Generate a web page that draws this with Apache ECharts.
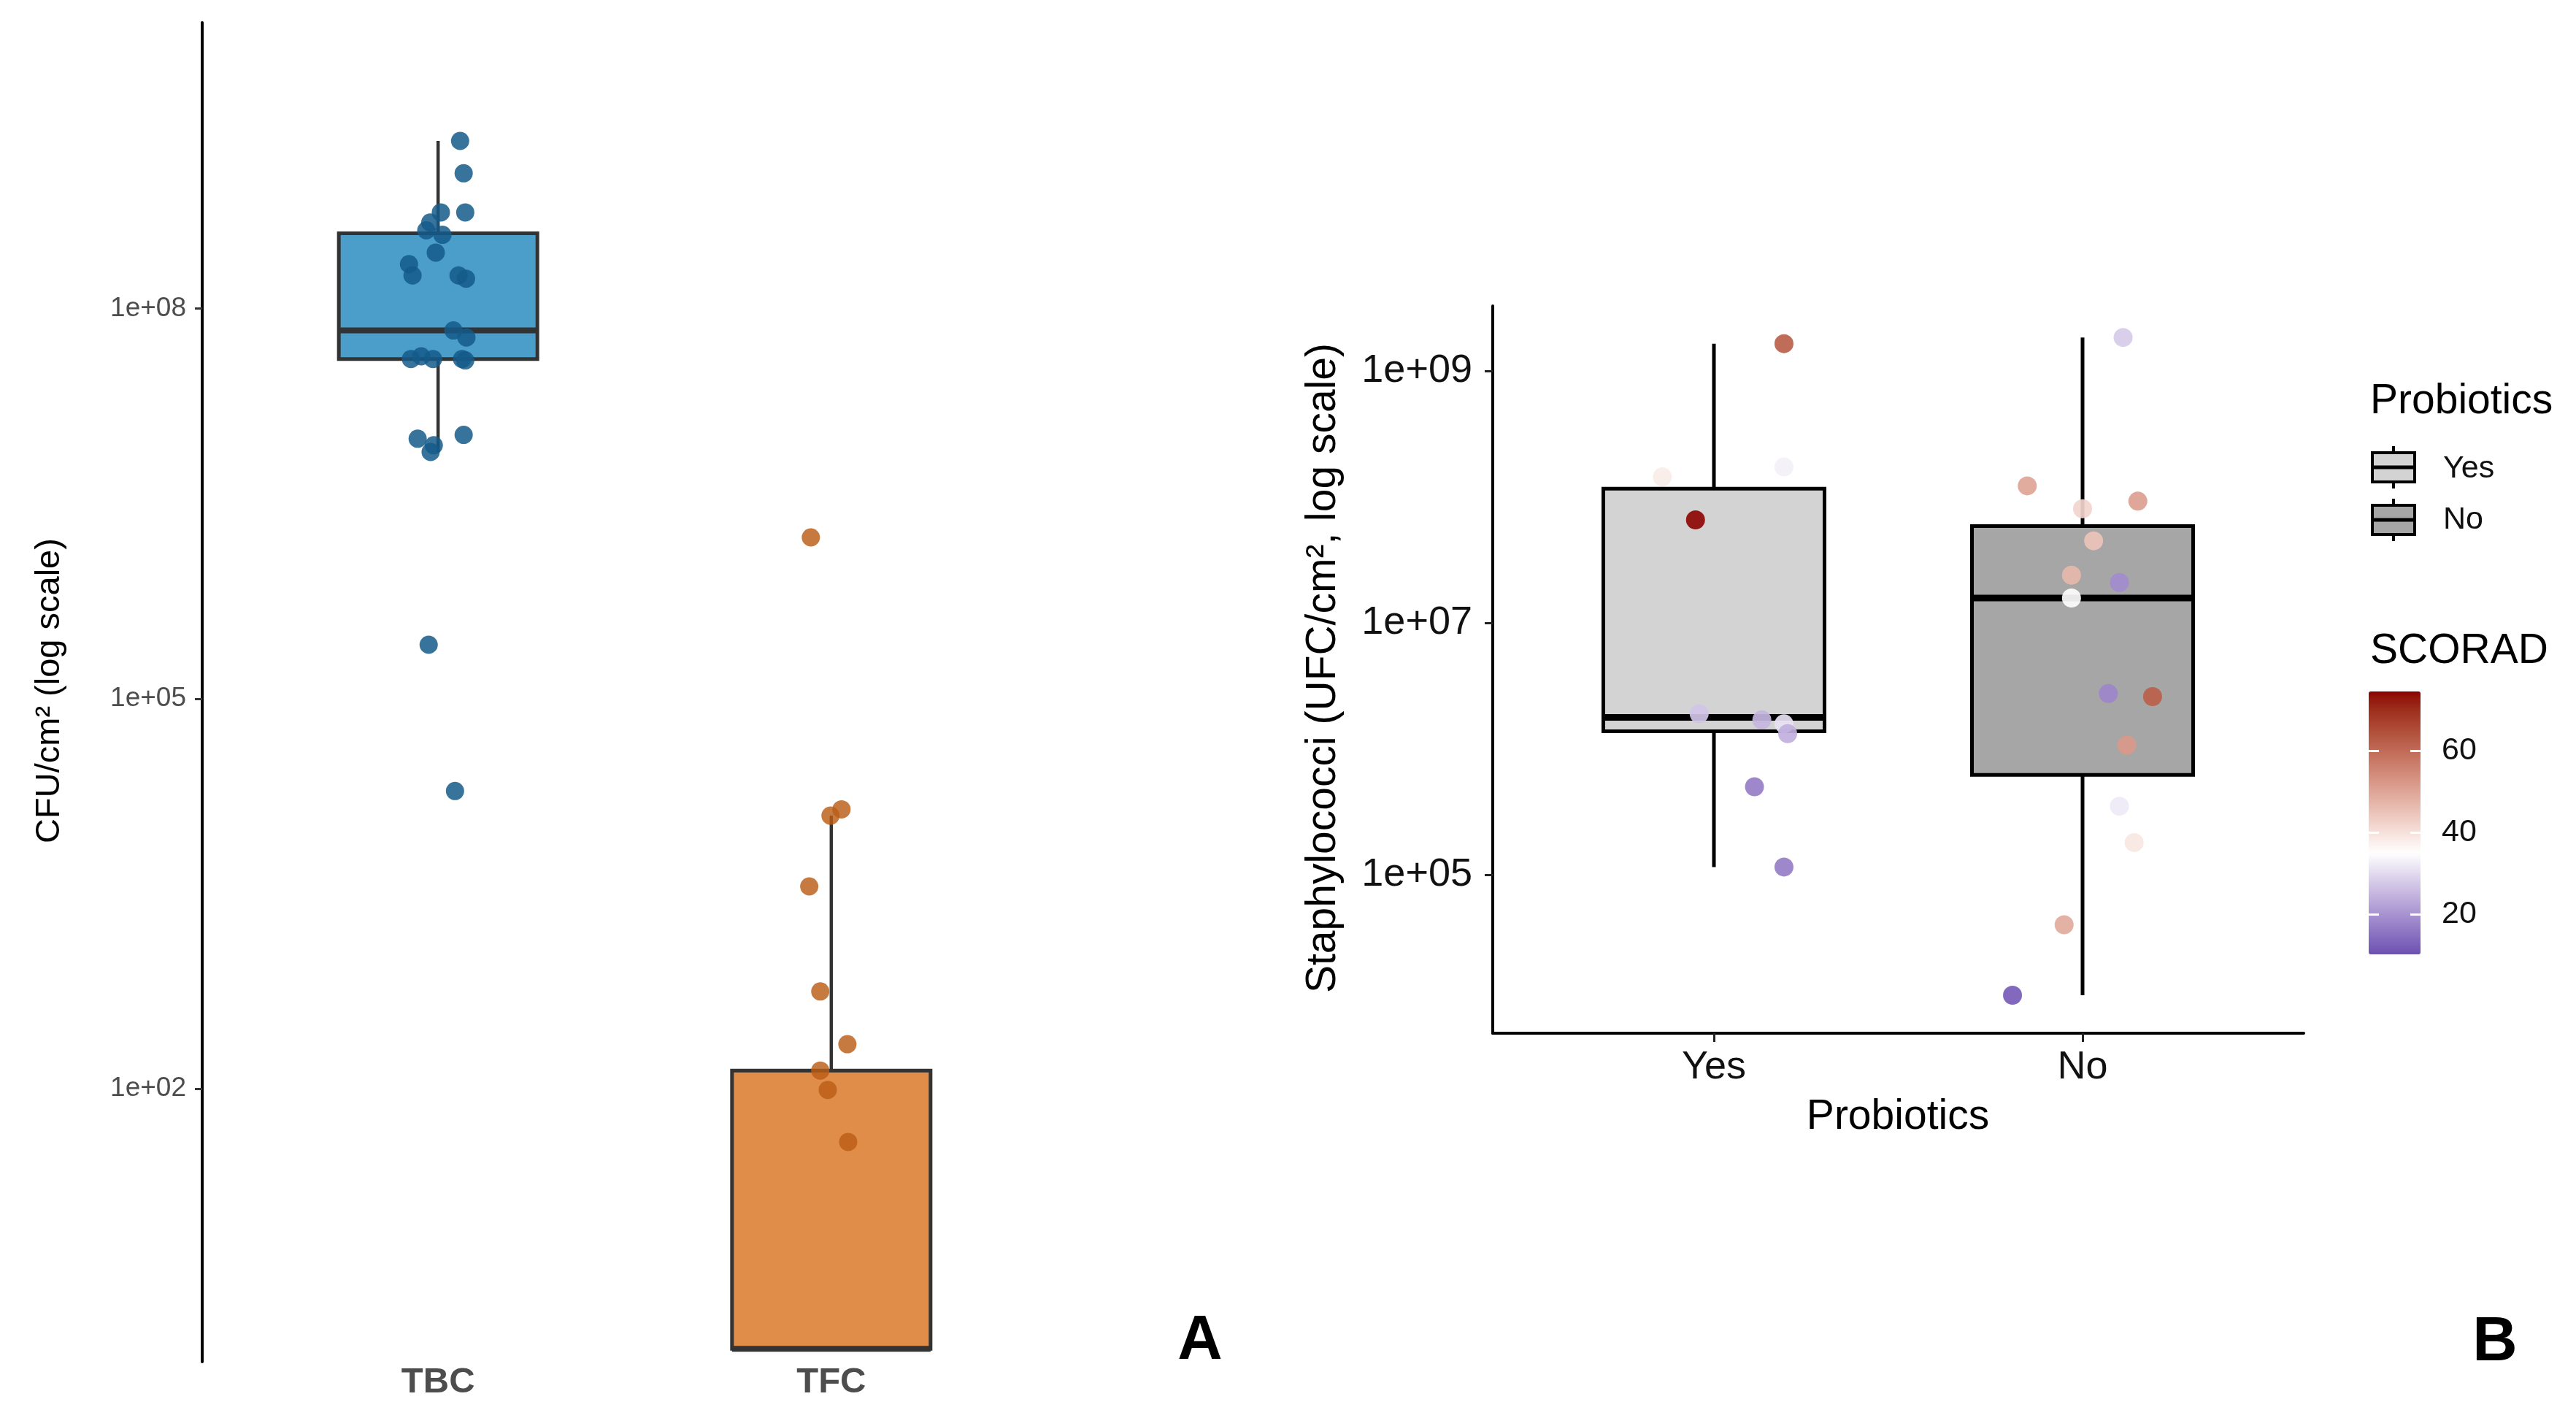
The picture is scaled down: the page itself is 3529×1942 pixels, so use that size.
<!DOCTYPE html>
<html>
<head>
<meta charset="utf-8">
<script src="https://cdn.jsdelivr.net/npm/echarts@6/dist/echarts.min.js"></script>
<style>
  html, body { margin: 0; padding: 0; background: #ffffff; }
  #chart { width: 3529px; height: 1942px; }
</style>
</head>
<body>
<div id="chart"></div>
<script>
// ---------------- Panel A data (CFU/cm2) ----------------
const panelACategories = ['TBC', 'TFC'];
const tbcValues = [1.95e9, 1.10e9, 5.5e8, 5.5e8, 4.6e8, 4.0e8, 3.7e8, 2.7e8, 2.2e8, 1.8e8, 1.8e8, 1.7e8,
  6.8e7, 6.0e7, 4.1e7, 4.3e7, 4.1e7, 4.1e7, 4.0e7, 1.0e7, 1.07e7, 8.9e6, 7.9e6, 2.6e5, 1.95e4];
const tbcJitter = [0.056, 0.065, 0.007, 0.069, -0.020, -0.030, 0.011, -0.006, -0.074, -0.065, 0.052, 0.071,
  0.039, 0.072, -0.069, -0.043, -0.013, 0.061, 0.069, -0.052, 0.065, -0.011, -0.019, -0.024, 0.043];
const tfcValues = [1.74e6, 1.26e4, 1.41e4, 3.6e3, 5.6e2, 2.2e2, 1.38e2, 98, 39];
const tfcJitter = [-0.052, -0.002, 0.026, -0.056, -0.028, 0.041, -0.028, -0.009, 0.043];
// box stats: [lower whisker, Q1, median, Q3, upper whisker]
const tbcBox = [7.9e6, 4.1e7, 6.8e7, 3.8e8, 1.95e9];
const tfcBox = [1, 1, 1, 1.38e2, 1.26e4];
const panelATickExponents = [2, 5, 8];

// ---------------- Panel B data (UFC/cm2) ----------------
const probioticsCategories = ['Yes', 'No'];
const yesValues = [1.66e9, 1.45e8, 1.74e8, 6.6e7, 1.9e6, 1.7e6, 1.58e6, 1.32e6, 5.0e5, 1.15e5];
const yesScorad = [62, 38, 33, 74, 27, 25, 31, 24, 17, 17];
const yesJitter = [0.19, -0.14, 0.19, -0.05, -0.04, 0.13, 0.19, 0.20, 0.11, 0.19];
const noValues = [1.86e9, 1.23e8, 9.3e7, 8.1e7, 4.5e7, 2.4e7, 2.1e7, 1.58e7, 2.75e6, 2.6e6, 1.07e6, 3.5e5, 1.8e5, 4.0e4, 1.1e4];
const noScorad = [28, 50, 51, 42, 45, 47, 19, 35, 18, 62, 52, 32, 39, 49, 12];
const noJitter = [0.11, -0.15, 0.15, 0.00, 0.03, -0.03, 0.10, -0.03, 0.07, 0.19, 0.12, 0.10, 0.14, -0.05, -0.19];
const yesBox = [1.15e5, 1.38e6, 1.78e6, 1.17e8, 1.66e9];
const noBox = [1.1e4, 6.2e5, 1.58e7, 5.9e7, 1.86e9];
const panelBTickExponents = [5, 7, 9];
const scoradTicks = [20, 40, 60];
const scoradRange = [10.2, 74.5];
const scoradMid = 35;

// ---------------- helpers ----------------
const FONT = 'Liberation Sans, Arial, Helvetica, sans-serif';
const lg = v => Math.log10(v);
const expLabel = v => '1e+' + (v < 10 ? '0' : '') + v;

function hexToRgb(hex) { const n = parseInt(hex.slice(1), 16); return [(n >> 16) & 255, (n >> 8) & 255, n & 255]; }
function toLin(c) { c /= 255; return c <= 0.04045 ? c / 12.92 : Math.pow((c + 0.055) / 1.055, 2.4); }
function fromLin(c) { const v = c <= 0.0031308 ? 12.92 * c : 1.055 * Math.pow(c, 1 / 2.4) - 0.055; return Math.round(Math.max(0, Math.min(1, v)) * 255); }
function rgbToLab(rgb) {
  const r = toLin(rgb[0]), g = toLin(rgb[1]), b = toLin(rgb[2]);
  const x = (0.4124 * r + 0.3576 * g + 0.1805 * b) / 0.95047;
  const y = (0.2126 * r + 0.7152 * g + 0.0722 * b);
  const z = (0.0193 * r + 0.1192 * g + 0.9505 * b) / 1.08883;
  const f = t => t > 0.008856 ? Math.cbrt(t) : 7.787 * t + 16 / 116;
  const fx = f(x), fy = f(y), fz = f(z);
  return [116 * fy - 16, 500 * (fx - fy), 200 * (fy - fz)];
}
function labToHex(lab) {
  const fy = (lab[0] + 16) / 116, fx = fy + lab[1] / 500, fz = fy - lab[2] / 200;
  const fi = t => { const t3 = t * t * t; return t3 > 0.008856 ? t3 : (t - 16 / 116) / 7.787; };
  const x = fi(fx) * 0.95047, y = fi(fy), z = fi(fz) * 1.08883;
  const r = 3.2406 * x - 1.5372 * y - 0.4986 * z;
  const g = -0.9689 * x + 1.8758 * y + 0.0415 * z;
  const b = 0.0557 * x - 0.2040 * y + 1.0570 * z;
  return '#' + [fromLin(r), fromLin(g), fromLin(b)].map(c => c.toString(16).padStart(2, '0')).join('');
}
const LOW = rgbToLab(hexToRgb('#6c51b2')), MID = rgbToLab(hexToRgb('#ffffff')), HIGH = rgbToLab(hexToRgb('#8b0000'));
function scoradColor(v) {
  let a, b, t;
  if (v <= scoradMid) { a = LOW; b = MID; t = (v - scoradRange[0]) / (scoradMid - scoradRange[0]); }
  else { a = MID; b = HIGH; t = (v - scoradMid) / (scoradRange[1] - scoradMid); }
  return labToHex([0, 1, 2].map(i => a[i] + (b[i] - a[i]) * t));
}
const colorStops = [];
for (let i = 0; i <= 80; i++) colorStops.push(scoradColor(scoradRange[0] + (scoradRange[1] - scoradRange[0]) * i / 80));

function boxRenderer(opts) {
  return function (params, api) {
    const x = api.value(0);
    const lo = api.coord([x, api.value(1)]);
    const q1 = api.coord([x, api.value(2)]);
    const md = api.coord([x, api.value(3)]);
    const q3 = api.coord([x, api.value(4)]);
    const hi = api.coord([x, api.value(5)]);
    const half = api.size([opts.width, 0])[0] / 2;
    const cx = md[0];
    return {
      type: 'group',
      children: [
        { type: 'line', shape: { x1: cx, y1: hi[1], x2: cx, y2: q3[1] }, style: { stroke: opts.stroke, lineWidth: opts.whiskerLw } },
        { type: 'line', shape: { x1: cx, y1: q1[1], x2: cx, y2: lo[1] }, style: { stroke: opts.stroke, lineWidth: opts.whiskerLw } },
        { type: 'rect', shape: { x: cx - half, y: q3[1], width: 2 * half, height: q1[1] - q3[1] },
          style: { fill: opts.fills[params.dataIndex], stroke: opts.stroke, lineWidth: opts.lw } },
        { type: 'line', shape: { x1: cx - half, y1: md[1], x2: cx + half, y2: md[1] }, style: { stroke: opts.stroke, lineWidth: opts.medLw } }
      ]
    };
  };
}

const tbcPoints = tbcValues.map((v, i) => [1 + tbcJitter[i], lg(v)]);
const tfcPoints = tfcValues.map((v, i) => [2 + tfcJitter[i], lg(v)]);
const yesPoints = yesValues.map((v, i) => [1 + yesJitter[i], lg(v), yesScorad[i]]);
const noPoints = noValues.map((v, i) => [2 + noJitter[i], lg(v), noScorad[i]]);
const boxA = [[1].concat(tbcBox.map(lg)), [2].concat(tfcBox.map(lg))];
const boxB = [[1].concat(yesBox.map(lg)), [2].concat(noBox.map(lg))];

const chart = echarts.init(document.getElementById('chart'), null, { renderer: 'canvas', devicePixelRatio: 1 });

const option = {
  animation: false,
  backgroundColor: '#ffffff',
  textStyle: { fontFamily: FONT },
  grid: [
    { left: 277, top: 31, width: 1185, height: 1834 },
    { left: 2045, top: 419, width: 1111, height: 996 },
    { left: 3245, top: 947, width: 71, height: 360 }
  ],
  xAxis: [
    { gridIndex: 0, type: 'value', min: 0.4, max: 2.6,
      axisLine: { show: false }, axisTick: { show: false }, splitLine: { show: false },
      axisLabel: { customValues: [1, 2], formatter: v => panelACategories[Math.round(v) - 1],
        fontSize: 49, fontWeight: 'bold', color: '#4d4d4d', fontFamily: FONT, margin: 4 } },
    { gridIndex: 1, type: 'value', min: 0.4, max: 2.6,
      axisLine: { show: true, lineStyle: { color: '#000', width: 4 } },
      axisTick: { show: true, customValues: [1, 2], length: 12, lineStyle: { color: '#222', width: 3 } },
      splitLine: { show: false },
      axisLabel: { customValues: [1, 2], formatter: v => probioticsCategories[Math.round(v) - 1],
        fontSize: 54, color: '#111', fontFamily: FONT, margin: 20 } },
    { gridIndex: 2, type: 'value', min: 0, max: 1, show: false }
  ],
  yAxis: [
    { gridIndex: 0, type: 'value', min: -0.1, max: 10.2,
      axisLine: { show: true, lineStyle: { color: '#000', width: 4 } },
      axisTick: { show: true, customValues: panelATickExponents, length: 10, lineStyle: { color: '#333', width: 3 } },
      splitLine: { show: false },
      axisLabel: { customValues: panelATickExponents, formatter: expLabel, fontSize: 37, color: '#4d4d4d', fontFamily: FONT, margin: 22 } },
    { gridIndex: 1, type: 'value', min: 3.74, max: 9.52,
      axisLine: { show: true, lineStyle: { color: '#000', width: 4 } },
      axisTick: { show: true, customValues: panelBTickExponents, length: 11, lineStyle: { color: '#222', width: 3 } },
      splitLine: { show: false },
      axisLabel: { customValues: panelBTickExponents, formatter: expLabel, fontSize: 54, color: '#111', fontFamily: FONT, margin: 28 } },
    { gridIndex: 2, type: 'value', min: scoradRange[0], max: scoradRange[1], position: 'left', z: 10,
      axisLine: { show: false }, splitLine: { show: false }, axisLabel: { show: false },
      axisTick: { show: true, inside: true, customValues: scoradTicks, length: 14, lineStyle: { color: '#ffffff', width: 3 } } },
    { gridIndex: 2, type: 'value', min: scoradRange[0], max: scoradRange[1], position: 'right', z: 10,
      axisLine: { show: false }, splitLine: { show: false },
      axisTick: { show: true, inside: true, customValues: scoradTicks, length: 14, lineStyle: { color: '#ffffff', width: 3 } },
      axisLabel: { customValues: scoradTicks, fontSize: 43, color: '#111', fontFamily: FONT, margin: 29 } }
  ],
  visualMap: [{
    type: 'continuous', min: scoradRange[0], max: scoradRange[1], dimension: 2, seriesIndex: [4, 5],
    inRange: { color: colorStops }, calculable: false, hoverLink: false,
    orient: 'vertical', left: 3245, top: 947, itemWidth: 71, itemHeight: 360, padding: 0
  }],
  series: [
    { type: 'custom', name: 'boxA', xAxisIndex: 0, yAxisIndex: 0, z: 2,
      renderItem: boxRenderer({ width: 0.505, fills: ['#4b9dca', '#e08d4a'], stroke: '#333333', lw: 5, medLw: 8, whiskerLw: 4.5 }),
      encode: { x: 0, y: [1, 2, 3, 4, 5] }, data: boxA },
    { type: 'scatter', name: 'TBC', xAxisIndex: 0, yAxisIndex: 0, z: 3, symbolSize: 25,
      itemStyle: { color: '#145b8a', opacity: 0.85 }, data: tbcPoints },
    { type: 'scatter', name: 'TFC', xAxisIndex: 0, yAxisIndex: 0, z: 3, symbolSize: 25,
      itemStyle: { color: '#b95d16', opacity: 0.82 }, data: tfcPoints },
    { type: 'custom', name: 'boxB', xAxisIndex: 1, yAxisIndex: 1, z: 2,
      renderItem: boxRenderer({ width: 0.6, fills: ['#d3d3d3', '#a6a6a6'], stroke: '#000000', lw: 5, medLw: 9, whiskerLw: 5 }),
      encode: { x: 0, y: [1, 2, 3, 4, 5] }, data: boxB },
    { type: 'scatter', name: 'Yes', xAxisIndex: 1, yAxisIndex: 1, z: 3, symbolSize: 26,
      itemStyle: { opacity: 0.92 }, encode: { x: 0, y: 1 }, data: yesPoints },
    { type: 'scatter', name: 'No', xAxisIndex: 1, yAxisIndex: 1, z: 3, symbolSize: 26,
      itemStyle: { opacity: 0.92 }, encode: { x: 0, y: 1 }, data: noPoints }
  ],
  graphic: [
    { type: 'text', x: 68, y: 946, rotation: Math.PI / 2,
      style: { text: 'CFU/cm² (log scale)', fontSize: 47, fontFamily: FONT, fill: '#000', align: 'center', verticalAlign: 'middle' } },
    { type: 'text', x: 1813, y: 915, rotation: Math.PI / 2,
      style: { text: 'Staphylococci (UFC/cm², log scale)', fontSize: 57, fontFamily: FONT, fill: '#000', align: 'center', verticalAlign: 'middle' } },
    { type: 'text', x: 2600, y: 1530,
      style: { text: 'Probiotics', fontSize: 57, fontFamily: FONT, fill: '#000', align: 'center', verticalAlign: 'middle' } },
    { type: 'text', x: 1644, y: 1838,
      style: { text: 'A', fontSize: 85, fontWeight: 'bold', fontFamily: FONT, fill: '#000', align: 'center', verticalAlign: 'middle' } },
    { type: 'text', x: 3418, y: 1840,
      style: { text: 'B', fontSize: 85, fontWeight: 'bold', fontFamily: FONT, fill: '#000', align: 'center', verticalAlign: 'middle' } },
    // Probiotics legend
    { type: 'text', x: 3247, y: 550,
      style: { text: 'Probiotics', fontSize: 57, fontFamily: FONT, fill: '#000', align: 'left', verticalAlign: 'middle' } },
    { type: 'line', shape: { x1: 3279, y1: 611, x2: 3279, y2: 669 }, style: { stroke: '#000', lineWidth: 4 } },
    { type: 'rect', shape: { x: 3250, y: 620, width: 58, height: 40 }, style: { fill: '#d3d3d3', stroke: '#000', lineWidth: 4 } },
    { type: 'line', shape: { x1: 3250, y1: 640, x2: 3308, y2: 640 }, style: { stroke: '#000', lineWidth: 5 } },
    { type: 'line', shape: { x1: 3279, y1: 683, x2: 3279, y2: 741 }, style: { stroke: '#000', lineWidth: 4 } },
    { type: 'rect', shape: { x: 3250, y: 692, width: 58, height: 40 }, style: { fill: '#a6a6a6', stroke: '#000', lineWidth: 4 } },
    { type: 'line', shape: { x1: 3250, y1: 712, x2: 3308, y2: 712 }, style: { stroke: '#000', lineWidth: 5 } },
    { type: 'text', x: 3347, y: 642,
      style: { text: 'Yes', fontSize: 43, fontFamily: FONT, fill: '#111', align: 'left', verticalAlign: 'middle' } },
    { type: 'text', x: 3347, y: 712,
      style: { text: 'No', fontSize: 43, fontFamily: FONT, fill: '#111', align: 'left', verticalAlign: 'middle' } },
    { type: 'text', x: 3247, y: 892,
      style: { text: 'SCORAD', fontSize: 57, fontFamily: FONT, fill: '#000', align: 'left', verticalAlign: 'middle' } }
  ]
};
chart.setOption(option);
</script>
</body>
</html>
